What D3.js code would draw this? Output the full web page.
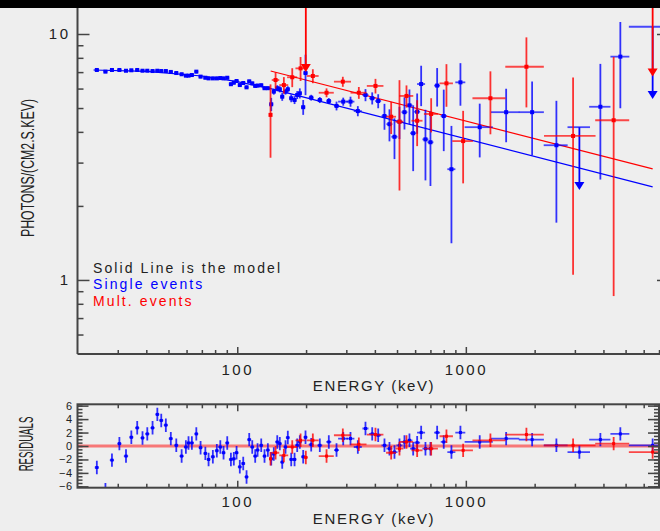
<!DOCTYPE html>
<html>
<head>
<meta charset="utf-8">
<script src="https://cdn.jsdelivr.net/npm/d3@7"></script>
<style>
  body { margin: 0; background: #eeeeee; }
  svg { display: block; font-family: "Liberation Sans", Arial, sans-serif; }
</style>
</head>
<body>
<svg width="660" height="531"></svg>
<script>
// single events (blue): energy (keV), flux, flux error, bin half width, residual
const singleEnergy = [24.3, 26.5, 28.3, 30.5, 32.6, 34.4, 36.5, 38.5, 40.4, 42.6,
  44.7, 46.5, 48.7, 51.2, 54.1, 57.1, 59.6, 61.2, 63.3, 66.2,
  69.1, 72.5, 74.9, 78.2, 81.4, 84.3, 87.1, 90.4, 93.8, 96.6,
  99.3, 102.6, 106.2, 109.8, 112.8, 116.3, 119.8, 122.7, 127.3, 131.6,
  136.1, 140.8, 144.5, 149.6, 153.5, 157.3, 162.6, 166.4, 172.2, 178.1,
  182.9, 187.8, 194.3, 198.9, 210.6, 229.7, 251.5, 271.8, 290.8, 312.9,
  336.9, 363.9, 389.4, 413.6, 440.6, 463.3, 487.3, 512.5, 538.9, 566.7,
  588.3, 612.4, 637.6, 665.8, 700.2, 749, 800.5, 865, 947, 1150,
  1501, 1950, 2490, 3878, 4742];
const singleFlux = [7.14, 7.03, 7.14, 7.14, 7.09, 7.12, 7.14, 7.09, 7.09, 7.07,
  7.09, 7.07, 7.07, 7.01, 6.94, 6.86, 6.77, 6.77, 6.81, 7.03,
  6.71, 6.64, 6.60, 6.60, 6.60, 6.62, 6.60, 6.64, 6.25, 6.34,
  6.44, 6.20, 6.32, 6.07, 6.42, 6.30, 6.15, 6.17, 6.19, 6.02,
  6.02, 5.18, 5.83, 6.02, 5.96, 5.56, 5.83, 5.96, 5.48, 5.39,
  5.65, 5.74, 5.04, 6.94, 5.51, 5.39, 5.34, 5.10, 5.31, 5.31,
  4.86, 5.65, 5.48, 5.34, 4.64, 4.30, 3.82, 4.40, 4.81, 5.13,
  3.95, 4.83, 6.26, 3.73, 3.63, 6.17, 4.64, 2.82, 6.36, 4.18,
  4.81, 4.81, 3.53, 5.06, 8.09];
const singleFluxErr = [0.09, 0.09, 0.09, 0.09, 0.09, 0.09, 0.09, 0.09, 0.09, 0.09,
  0.09, 0.09, 0.09, 0.09, 0.09, 0.09, 0.09, 0.09, 0.09, 0.1,
  0.1, 0.1, 0.1, 0.1, 0.1, 0.1, 0.1, 0.1, 0.1, 0.1,
  0.1, 0.1, 0.1, 0.1, 0.1, 0.1, 0.1, 0.1, 0.1, 0.1,
  0.1, 0.32, 0.16, 0.17, 0.17, 0.21, 0.16, 0.17, 0.2, 0.2,
  0.21, 0.27, 0.35, 1.3, 0.15, 0.15, 0.15, 0.21, 0.2, 0.25,
  0.23, 0.32, 0.31, 0.35, 0.56, 0.64, 0.72, 0.66, 0.72, 0.82,
  1.18, 0.9, 1.17, 1.19, 1.22, 1.1, 1.3, 1.41, 1.25, 1.03,
  1.18, 1.6, 1.82, 2.5, 3.1];
const singleBinHalf = [0.5, 0.55, 0.6, 0.65, 0.7, 0.7, 0.75, 0.8, 0.85, 0.9,
  0.9, 0.95, 1.0, 1.05, 1.1, 1.2, 1.2, 1.2, 1.3, 1.3,
  1.4, 1.4, 1.5, 1.6, 1.6, 1.7, 1.7, 1.8, 1.9, 1.9,
  2.0, 2.0, 2.1, 2.2, 2.3, 2.3, 2.4, 2.5, 2.5, 2.6,
  2.7, 2.8, 2.9, 3.0, 3.1, 3.1, 3.3, 3.3, 3.4, 3.6,
  3.7, 3.8, 3.9, 4.0, 5.3, 5.7, 6.3, 6.8, 14.6, 12.6,
  13.6, 11, 12, 12.5, 13, 14, 15, 15.5, 16, 17,
  18, 18.5, 25.7, 20, 21, 22.6, 24, 35, 47.7, 162,
  213, 245, 299, 414, 451];
const singleResidual = [-3.2, -6.5, -2.1, 0.35, -1.5, 1.3, 2.7, 1.2, 1.8, 2.7,
  4.7, 3.8, 3.1, 1.1, 0.1, -1.5, -0.15, 0.45, 0.45, 1.8,
  -0.25, -1.1, -2.0, -1.6, -0.7, -0.15, -1.0, 0.45, -2.0, -1.9,
  -1.0, -3.1, -2.6, -4.6, 0.95, -0.15, -1.5, -0.6, 0.1, -1.5,
  -0.6, -1.9, -1.2, 0.6, 0.35, -2.4, -0.15, 1.25, -2.0, -2.0,
  0.1, 0.6, -1.6, 1.3, 0.2, 0.1, 0.6, -0.6, 1.1, 1.1,
  -0.15, 2.6, 1.8, 1.6, 0.1, -0.4, -0.9, 0.1, 0.6, 0.85,
  -0.4, 0.5, 2.0, -0.4, -0.4, 2.0, 0.6, -0.9, 2.0, 0.6,
  1.1, 0.95, 0.1, 0.95, 1.8];

// single events upper limits
const singleLimitEnergy = [3139, 6566];
const singleLimitFlux = [4.18, 10.7];
const singleLimitTip = [2.32, 5.44];
const singleLimitBin = [354, 1400];
const singleLimitResidual = [-0.9, 0.1];

// multiple events (red)
const multEnergy = [139.8, 147.1, 159.9, 174.0, 189.2, 214.1, 245.8, 289.6, 340.3, 402.4,
  471.4, 512.5, 550, 612.4, 705.2, 822.6, 973.2, 1281, 1841, 2946, 4433];
const multFlux = [4.69, 6.50, 6.20, 6.67, 7.25, 6.75, 5.77, 6.40, 5.77, 6.15,
  4.61, 4.40, 5.60, 4.44, 4.73, 6.30, 3.67, 5.48, 7.36, 3.85, 4.46];
const multFluxErr = [1.55, 0.5, 0.48, 0.59, 0.81, 0.44, 0.24, 0.3, 0.32, 0.42,
  0.69, 2.09, 0.58, 0.94, 0.75, 1.24, 1.2, 1.57, 2.33, 2.8, 3.6];
const multBinHalf = [1.5, 5.6, 7.2, 8.8, 9.5, 12.9, 18.6, 24.8, 27.4, 33.6,
  23.7, 20.6, 38.8, 34, 49.7, 55.5, 101, 212, 353, 748, 752];
const multResidual = [-1.9, -1.0, -1.4, -0.15, 0.85, 0.85, -1.5, 1.6, 0.25, 1.7,
  -1.0, -0.4, 0.6, -0.65, -0.4, 1.45, -0.65, 0.85, 1.7, 0.1, 0.35];

// multiple events upper limits
const multLimitEnergy = [199.5, 6566];
const multLimitFlux = [14, 14];
const multLimitTip = [7.01, 6.71];
const multLimitBin = [4, 1400];
const multLimitResidual = [-1.7, -0.9];

// model curves
const singleModelEnergy = [23.5, 40, 70, 100, 140, 6566];
const singleModelFlux = [7.14, 7.05, 6.75, 6.4, 6.0, 2.39];
const multModelEnergy = [140, 6566];
const multModelFlux = [7.07, 2.83];

// axis ticks
const xMajor = [100, 1000];
const xMinor = [30, 40, 50, 60, 70, 80, 90, 200, 300, 400, 500, 600, 700, 800, 900,
  2000, 3000, 4000, 5000, 6000, 7000];
const yMajor = [1, 10];
const yMinor = [0.6, 0.7, 0.8, 0.9, 2, 3, 4, 5, 6, 7, 8, 9];
const resMajor = [-6, -4, -2, 0, 2, 4, 6];
const resMinor = d3.range(-6, 6.01, 0.5);
const resErr = 1;

const blue = "#0000ff";
const red = "#ff0000";
const ink = "#222";
const axisColor = "#444";

const svg = d3.select("svg");
svg.append("rect").attr("width", 660).attr("height", 531).attr("fill", "#eeeeee");

// define scales
const x = d3.scaleLog().domain([20, 7000]).range([77.5, 659]);
const y = d3.scaleLog().domain([0.5, 10]).range([354, 34]);
const yRes = d3.scaleLinear().domain([-6.2, 6.2]).range([487.7, 404.3]);

// clip areas
const defs = svg.append("defs");
defs.append("clipPath").attr("id", "clipTop").append("rect")
  .attr("x", x.range()[0]).attr("y", 0)
  .attr("width", 660 - x.range()[0]).attr("height", y(0.5));
defs.append("clipPath").attr("id", "clipRes").append("rect")
  .attr("x", x.range()[0]).attr("y", yRes(6.2))
  .attr("width", x.range()[1] - x.range()[0]).attr("height", yRes(-6.2) - yRes(6.2));

function rows(energy, value, err, bin) {
  return energy.map((e, i) => ({
    e: e,
    v: value[i],
    dv: Array.isArray(err) ? err[i] : err,
    de: bin[i]
  }));
}

// error bars with a small square marker
function drawPoints(g, yScale, data, color, size) {
  const pt = g.selectAll(null).data(data).enter().append("g");
  pt.append("line")
    .attr("x1", d => x(d.e)).attr("x2", d => x(d.e))
    .attr("y1", d => yScale(d.v - d.dv)).attr("y2", d => yScale(d.v + d.dv))
    .attr("stroke", color).attr("stroke-width", 1.8).attr("stroke-opacity", 0.8);
  pt.append("line")
    .attr("x1", d => x(d.e - d.de)).attr("x2", d => x(d.e + d.de))
    .attr("y1", d => yScale(d.v)).attr("y2", d => yScale(d.v))
    .attr("stroke", color).attr("stroke-width", 1.8).attr("stroke-opacity", 0.7);
  pt.append("rect")
    .attr("x", d => x(d.e) - size / 2).attr("y", d => yScale(d.v) - size / 2)
    .attr("width", size).attr("height", size)
    .attr("fill", color);
}

// upper limits: bin bar, line down and arrow head
function drawLimits(g, energy, flux, tip, bin, color) {
  const lim = g.selectAll(null)
    .data(energy.map((e, i) => ({e: e, v: flux[i], t: tip[i], de: bin[i]})))
    .enter().append("g");
  lim.append("line")
    .attr("x1", d => x(d.e - d.de)).attr("x2", d => x(d.e + d.de))
    .attr("y1", d => y(d.v)).attr("y2", d => y(d.v))
    .attr("stroke", color).attr("stroke-width", 1.8).attr("stroke-opacity", 0.7);
  lim.append("line")
    .attr("x1", d => x(d.e)).attr("x2", d => x(d.e))
    .attr("y1", d => y(d.v)).attr("y2", d => y(d.t) - 6)
    .attr("stroke", color).attr("stroke-width", 1.8);
  lim.append("path")
    .attr("d", d => {
      const cx = x(d.e), ty = y(d.t);
      return "M" + (cx - 5) + "," + (ty - 8) + "L" + (cx + 5) + "," + (ty - 8) + "L" + cx + "," + ty + "Z";
    })
    .attr("fill", color);
}

// top panel data
const upper = svg.append("g").attr("clip-path", "url(#clipTop)");
const modelLine = d3.line().x(d => x(d[0])).y(d => y(d[1]));
upper.append("path")
  .attr("d", modelLine(d3.zip(singleModelEnergy, singleModelFlux)))
  .attr("fill", "none").attr("stroke", blue).attr("stroke-width", 1.2);
upper.append("path")
  .attr("d", modelLine(d3.zip(multModelEnergy, multModelFlux)))
  .attr("fill", "none").attr("stroke", red).attr("stroke-width", 1.2);
drawPoints(upper, y, rows(singleEnergy, singleFlux, singleFluxErr, singleBinHalf), blue, 4);
drawLimits(upper, singleLimitEnergy, singleLimitFlux, singleLimitTip, singleLimitBin, blue);
drawPoints(upper, y, rows(multEnergy, multFlux, multFluxErr, multBinHalf), red, 4);
drawLimits(upper, multLimitEnergy, multLimitFlux, multLimitTip, multLimitBin, red);

// residual panel data
const lower = svg.append("g").attr("clip-path", "url(#clipRes)");
lower.append("line")
  .attr("x1", x.range()[0]).attr("x2", x.range()[1])
  .attr("y1", yRes(0)).attr("y2", yRes(0))
  .attr("stroke", red).attr("stroke-width", 3).attr("stroke-opacity", 0.5);
drawPoints(lower, yRes, rows(singleEnergy, singleResidual, resErr, singleBinHalf), blue, 3);
drawPoints(lower, yRes, rows(singleLimitEnergy, singleLimitResidual, resErr, singleLimitBin), blue, 3);
drawPoints(lower, yRes, rows(multEnergy, multResidual, resErr, multBinHalf), red, 3);
drawPoints(lower, yRes, rows(multLimitEnergy, multLimitResidual, resErr, multLimitBin), red, 3);

// axes helpers
function styleAxis(g) {
  g.select(".domain").remove();
  g.selectAll("line").attr("stroke", axisColor).attr("stroke-width", 1.5);
  g.selectAll("text")
    .attr("fill", ink)
    .style("font-size", "15px")
    .style("letter-spacing", "2.5px");
}
const fmt = d3.format("d");

// top panel axes
svg.append("g").attr("transform", "translate(" + x.range()[0] + ",0)")
  .call(d3.axisLeft(y).tickValues(yMinor).tickSize(-6).tickFormat(""))
  .call(styleAxis);
svg.append("g").attr("transform", "translate(" + x.range()[0] + ",0)")
  .call(d3.axisLeft(y).tickValues(yMajor).tickSize(-12).tickPadding(7).tickFormat(fmt))
  .call(styleAxis);
svg.append("g").attr("transform", "translate(660,0)")
  .call(d3.axisRight(y).tickValues(yMajor).tickSize(-3).tickFormat(""))
  .call(styleAxis);
svg.append("g").attr("transform", "translate(0," + y(0.5) + ")")
  .call(d3.axisBottom(x).tickValues(xMinor).tickSize(-4).tickFormat(""))
  .call(styleAxis);
svg.append("g").attr("transform", "translate(0," + y(0.5) + ")")
  .call(d3.axisBottom(x).tickValues(xMajor).tickSize(-7).tickPadding(10).tickFormat(fmt))
  .call(styleAxis);
svg.append("line")
  .attr("x1", x.range()[0]).attr("x2", x.range()[0])
  .attr("y1", 0).attr("y2", y(0.5))
  .attr("stroke", axisColor).attr("stroke-width", 2);
svg.append("line")
  .attr("x1", x.range()[0]).attr("x2", 660)
  .attr("y1", y(0.5)).attr("y2", y(0.5))
  .attr("stroke", axisColor).attr("stroke-width", 2);

// residual panel axes
const resTop = yRes(6.2), resBottom = yRes(-6.2);
svg.append("g").attr("transform", "translate(0," + resBottom + ")")
  .call(d3.axisBottom(x).tickValues(xMinor).tickSize(-4).tickFormat(""))
  .call(styleAxis);
svg.append("g").attr("transform", "translate(0," + resBottom + ")")
  .call(d3.axisBottom(x).tickValues(xMajor).tickSize(-7).tickPadding(9).tickFormat(fmt))
  .call(styleAxis);
svg.append("g").attr("transform", "translate(0," + resTop + ")")
  .call(d3.axisTop(x).tickValues(xMinor).tickSize(-4).tickFormat(""))
  .call(styleAxis);
svg.append("g").attr("transform", "translate(0," + resTop + ")")
  .call(d3.axisTop(x).tickValues(xMajor).tickSize(-7).tickFormat(""))
  .call(styleAxis);
svg.append("g").attr("transform", "translate(" + x.range()[0] + ",0)")
  .call(d3.axisLeft(yRes).tickValues(resMinor).tickSize(-5).tickFormat(""))
  .call(styleAxis);
svg.append("g").attr("transform", "translate(" + x.range()[0] + ",0)")
  .call(d3.axisLeft(yRes).tickValues(resMajor).tickSize(-11).tickPadding(5)
    .tickFormat(d => d < 0 ? "\u2212" + Math.abs(d) : d))
  .call(styleAxis)
  .call(g => g.selectAll("text").style("font-size", "11px").style("letter-spacing", "0.5px"));
svg.append("g").attr("transform", "translate(" + x.range()[1] + ",0)")
  .call(d3.axisRight(yRes).tickValues(resMinor).tickSize(-5).tickFormat(""))
  .call(styleAxis);
svg.append("g").attr("transform", "translate(" + x.range()[1] + ",0)")
  .call(d3.axisRight(yRes).tickValues(resMajor).tickSize(-11).tickFormat(""))
  .call(styleAxis);
svg.append("rect")
  .attr("x", x.range()[0]).attr("y", resTop)
  .attr("width", x.range()[1] - x.range()[0]).attr("height", resBottom - resTop)
  .attr("fill", "none").attr("stroke", axisColor).attr("stroke-width", 2);

// axis titles
const axisTitle = (tx, ty, txt) => svg.append("text")
  .attr("x", tx).attr("y", ty)
  .attr("text-anchor", "middle")
  .attr("fill", ink)
  .style("font-size", "15px")
  .style("letter-spacing", "1.6px")
  .text(txt);
axisTitle(374, 391, "ENERGY (keV)");
axisTitle(374, 524, "ENERGY (keV)");

svg.append("text")
  .attr("transform", "translate(34,168) rotate(-90) scale(0.88,1.3)")
  .attr("text-anchor", "middle")
  .attr("fill", ink)
  .style("font-size", "14px")
  .text("PHOTONS/(CM2.S.KEV)");
svg.append("text")
  .attr("transform", "translate(33,444) rotate(-90) scale(0.69,1.5)")
  .attr("text-anchor", "middle")
  .attr("fill", ink)
  .style("font-size", "14px")
  .text("RESIDUALS");

// legend
const legendRows = [
  {label: "Solid Line is the model", color: ink},
  {label: "Single events", color: blue},
  {label: "Mult. events", color: red}
];
svg.selectAll(".key")
  .data(legendRows)
  .enter()
  .append("text")
  .attr("class", "key")
  .attr("x", 93)
  .attr("y", (d, i) => 273 + i * 16.4)
  .attr("fill", d => d.color)
  .style("font-size", "14px")
  .style("letter-spacing", "2.1px")
  .text(d => d.label);

// window title bar strip
svg.append("rect").attr("width", 660).attr("height", 8).attr("fill", "#000");
</script>
</body>
</html>
